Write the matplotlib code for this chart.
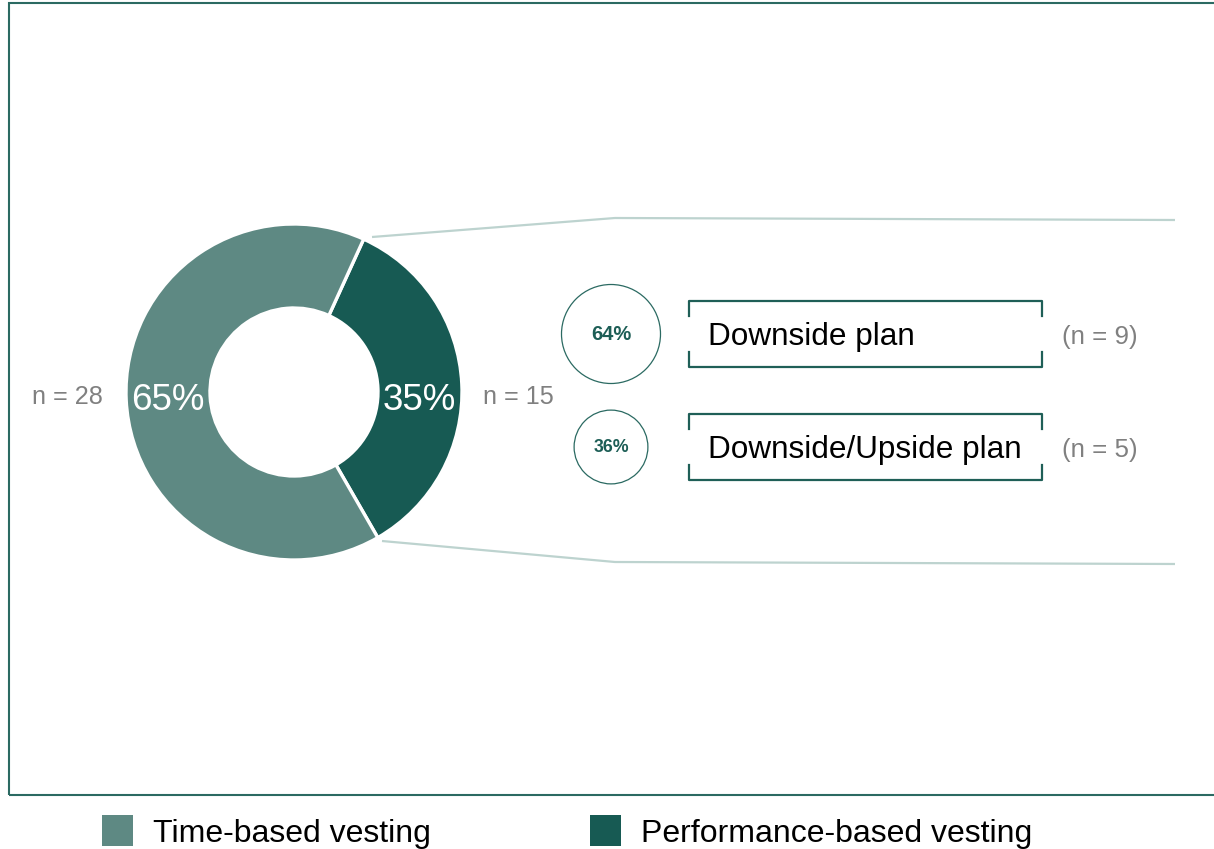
import matplotlib.pyplot as plt
from matplotlib.patches import Rectangle, Circle, Patch
import numpy as np

plt.rcParams['font.family'] = ['Liberation Sans', 'DejaVu Sans']

# Vesting split and the breakdown of performance-based plans
vesting_types = ['Time-based vesting', 'Performance-based vesting']
vesting_counts = [28, 15]
plan_types = ['Downside plan', 'Downside/Upside plan']
plan_counts = [9, 5]

light_green = '#5e8983'
dark_green = '#175a53'
line_green = '#1f5f57'
frame_green = '#2b6a62'
connector = '#bdd3cf'
grey = '#808080'

W, H = 1214, 849
fig = plt.figure(figsize=(W / 100, H / 100), dpi=100)
ax = fig.add_axes([0, 0, 1, 1])


def py(y):
    # pixel rows run downward, data y runs upward
    return H - y


# Donut: performance-based first, going clockwise from the top right
cx, cy, r = 294, py(392), 168
wedges, _ = ax.pie(vesting_counts[::-1], colors=[dark_green, light_green],
                   center=(cx, cy), radius=r, startangle=65.5, counterclock=False,
                   wedgeprops=dict(width=r / 2, edgecolor='white', linewidth=2.4))

total = sum(vesting_counts)
pct_time = vesting_counts[0] / total * 100
pct_perf = vesting_counts[1] / total * 100
ax.text(cx - 0.75 * r, cy - 8, f'{pct_time:.0f}%', color='white', fontsize=26.5,
        ha='center', va='center')
ax.text(cx + 0.745 * r, cy - 8, f'{pct_perf:.0f}%', color='white', fontsize=26.5,
        ha='center', va='center')
ax.text(103, py(397), f'n = {vesting_counts[0]}', color=grey, fontsize=18.2,
        ha='right', va='center')
ax.text(483, py(397), f'n = {vesting_counts[1]}', color=grey, fontsize=18.2,
        ha='left', va='center')

# Zoom lines from the performance slice out to the breakdown
ax.plot([372, 615, 1175], [py(237), py(218), py(220)], color=connector, lw=1.6,
        solid_capstyle='butt')
ax.plot([382, 615, 1175], [py(541), py(562), py(564)], color=connector, lw=1.6,
        solid_capstyle='butt')

# Breakdown rows: bubble sized by share, bracketed label, count
plan_total = sum(plan_counts)
row_y = [334, 447]
for name, count, yc in zip(plan_types, plan_counts, row_y):
    share = count / plan_total * 100
    rad = 16.5 * np.sqrt(count)
    ax.add_patch(Circle((611, py(yc)), rad, fill=False, edgecolor=frame_green, lw=0.9))
    ax.text(611, py(yc), f'{share:.0f}%', color='#1d5e56', fontsize=10.6 + 0.43 * count,
            fontweight='bold', ha='center', va='center')

    top, bot = yc - 33, yc + 33
    ax.plot([689, 689, 1042, 1042], [py(top + 15), py(top), py(top), py(top + 15)],
            color=line_green, lw=1.6, solid_joinstyle='round')
    ax.plot([689, 689, 1042, 1042], [py(bot - 15), py(bot), py(bot), py(bot - 15)],
            color=line_green, lw=1.6, solid_joinstyle='round')
    ax.text(708, py(yc + 3), name, color='black', fontsize=22.7, ha='left', va='center')
    ax.text(1062, py(yc + 3), f'(n = {count})', color=grey, fontsize=18.6,
            ha='left', va='center')

# Outer frame, open on the right edge of the canvas
ax.add_patch(Rectangle((9, py(795)), 1300, 792, fill=False, edgecolor=frame_green, lw=1.5))

ax.set_xlim(0, W)
ax.set_ylim(0, H)
ax.set_aspect('auto')
ax.axis('off')

handles = [Patch(facecolor=light_green, edgecolor='none'),
           Patch(facecolor=dark_green, edgecolor='none')]
fig.legend(handles, vesting_types, loc='center left',
           bbox_to_anchor=(102 / W, (H - 832) / H), ncol=2, frameon=False,
           fontsize=23, handlelength=0.97, handleheight=1.1, handletextpad=0.62,
           columnspacing=5.0, borderpad=0, borderaxespad=0)

fig.savefig('out.png', dpi=100)
